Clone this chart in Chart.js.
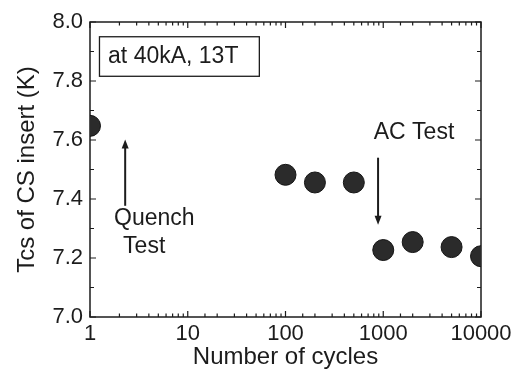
<!DOCTYPE html>
<html>
<head>
<meta charset="utf-8">
<script src="https://cdn.jsdelivr.net/npm/chart.js@4/dist/chart.umd.min.js"></script>
<style>
  html, body { margin: 0; padding: 0; background: #fff; }
  canvas { display: block; }
</style>
</head>
<body>
<canvas id="c" width="528" height="374"></canvas>
<script>
// Number of cycles and measured current-sharing temperature
const cycles = [1, 100, 200, 500, 1000, 2000, 5000, 10000];
const tcs = [7.648, 7.482, 7.456, 7.456, 7.227, 7.254, 7.237, 7.206];

// Axis ranges and labelled ticks
const xDecadeLabels = ['1', '10', '100', '1000', '10000'];
const yTickLabels = ['7.0', '7.2', '7.4', '7.6', '7.8', '8.0'];
const xRange = [1, 10000];
const yRange = [7.0, 8.0];

const FONT = "'Liberation Sans', Arial, Helvetica, sans-serif";
const INK = '#1c1c1c';

function isDecade(v) {
  const l = Math.log10(v);
  return Math.abs(l - Math.round(l)) < 1e-9;
}

// Frame box with inward ticks on all four sides
const framePlugin = {
  id: 'frame',
  beforeDatasetsDraw(chart) {
    const { ctx, chartArea: a, scales: { x, y } } = chart;
    ctx.save();
    ctx.strokeStyle = INK;
    ctx.lineWidth = 1.5;
    ctx.strokeRect(a.left, a.top, a.right - a.left, a.bottom - a.top);
    ctx.lineWidth = 1.2;
    ctx.beginPath();
    y.ticks.forEach(t => {
      const py = y.getPixelForValue(t.value);
      const major = Math.round(t.value * 10) % 2 === 0;
      const len = major ? 6 : 4;
      ctx.moveTo(a.left, py); ctx.lineTo(a.left + len, py);
      ctx.moveTo(a.right, py); ctx.lineTo(a.right - len, py);
    });
    x.ticks.forEach(t => {
      const px = x.getPixelForValue(t.value);
      const len = isDecade(t.value) ? 6 : 3.5;
      ctx.moveTo(px, a.bottom); ctx.lineTo(px, a.bottom - len);
      ctx.moveTo(px, a.top); ctx.lineTo(px, a.top + len);
    });
    ctx.stroke();
    ctx.restore();
  }
};

// Text annotations and arrows placed in data coordinates
const notesPlugin = {
  id: 'notes',
  afterDatasetsDraw(chart) {
    const { ctx, scales: { x, y } } = chart;
    ctx.save();
    ctx.fillStyle = INK;
    ctx.strokeStyle = INK;
    ctx.font = '23px ' + FONT;
    ctx.textBaseline = 'middle';
    ctx.textAlign = 'left';

    // condition label in a box
    const bx0 = x.getPixelForValue(1.25), bx1 = x.getPixelForValue(54);
    const by0 = y.getPixelForValue(7.95), by1 = y.getPixelForValue(7.816);
    ctx.lineWidth = 1.3;
    ctx.strokeRect(bx0, by0, bx1 - bx0, by1 - by0);
    ctx.fillText('at 40kA, 13T', x.getPixelForValue(1.53), y.getPixelForValue(7.884));

    ctx.fillText('Quench', x.getPixelForValue(1.76), y.getPixelForValue(7.335));
    ctx.fillText('Test', x.getPixelForValue(2.18), y.getPixelForValue(7.237));
    ctx.fillText('AC Test', x.getPixelForValue(800), y.getPixelForValue(7.625));

    function arrow(xv, yFrom, yTo) {
      const px = x.getPixelForValue(xv);
      const p0 = y.getPixelForValue(yFrom), p1 = y.getPixelForValue(yTo);
      const dir = p1 > p0 ? 1 : -1;
      ctx.lineWidth = 2;
      ctx.beginPath();
      ctx.moveTo(px, p0);
      ctx.lineTo(px, p1 - dir * 7);
      ctx.stroke();
      ctx.beginPath();
      ctx.moveTo(px, p1);
      ctx.lineTo(px - 3.5, p1 - dir * 9);
      ctx.lineTo(px + 3.5, p1 - dir * 9);
      ctx.closePath();
      ctx.fill();
    }
    arrow(2.29, 7.377, 7.602);
    arrow(885, 7.54, 7.313);
    ctx.restore();
  }
};

new Chart(document.getElementById('c'), {
  type: 'scatter',
  data: {
    datasets: [{
      data: cycles.map((c, i) => ({ x: c, y: tcs[i] })),
      pointRadius: 10.5,
      pointHoverRadius: 10.5,
      pointBackgroundColor: '#2b2b2b',
      pointBorderColor: '#141414',
      pointBorderWidth: 1,
      showLine: false
    }]
  },
  options: {
    responsive: false,
    animation: false,
    events: [],
    layout: { padding: { top: 22, right: 47, left: 0, bottom: 0 } },
    plugins: { legend: { display: false }, tooltip: { enabled: false } },
    scales: {
      x: {
        type: 'logarithmic',
        min: xRange[0],
        max: xRange[1],
        grid: { display: false, drawTicks: false },
        border: { display: false },
        ticks: {
          autoSkip: false,
          maxRotation: 0,
          padding: 4,
          color: INK,
          font: { family: FONT, size: 22 },
          callback: v => {
            if (!isDecade(v)) return '';
            const s = String(Math.round(v));
            return xDecadeLabels.includes(s) ? s : '';
          }
        },
        title: {
          display: true,
          text: 'Number of cycles',
          color: INK,
          font: { family: FONT, size: 24 },
          padding: { top: 0, bottom: 2 }
        },
        afterFit: s => { s.height = 57; }
      },
      y: {
        min: yRange[0],
        max: yRange[1],
        grid: { display: false, drawTicks: false },
        border: { display: false },
        ticks: {
          stepSize: 0.1,
          padding: 7,
          color: INK,
          font: { family: FONT, size: 22 },
          callback: v => {
            const s = (Math.round(v * 10) / 10).toFixed(1);
            return yTickLabels.includes(s) ? s : '';
          }
        },
        title: {
          display: true,
          text: 'Tcs of CS insert (K)',
          color: INK,
          font: { family: FONT, size: 24 },
          padding: { top: 13, bottom: 0 }
        },
        afterFit: s => { s.width = 90; }
      }
    }
  },
  plugins: [framePlugin, notesPlugin]
});
</script>
</body>
</html>
